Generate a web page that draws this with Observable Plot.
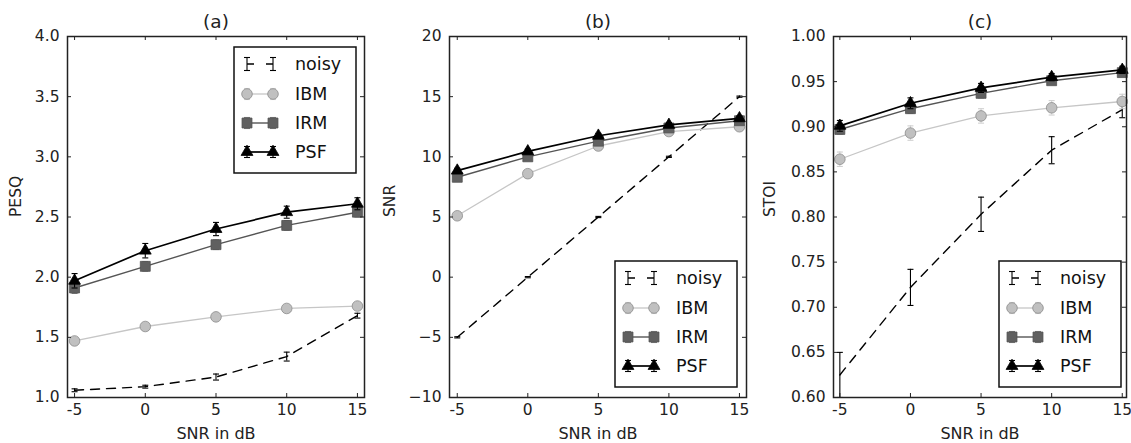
<!DOCTYPE html>
<html><head><meta charset="utf-8">
<script src="https://cdn.jsdelivr.net/npm/d3@7"></script>
<script src="https://cdn.jsdelivr.net/npm/@observablehq/plot@0.6"></script>
<style>
body{margin:0;background:#fff;}
#wrap{position:relative;width:1131px;height:443px;font-family:"DejaVu Sans",sans-serif;}
.panel{position:absolute;top:0;}
</style></head><body><div id="wrap"></div>
<script>
// ---- data ----
const snr = [-5, 0, 5, 10, 15];
const xTicks = [-5, 0, 5, 10, 15];
const seriesNames = ["noisy", "IBM", "IRM", "PSF"];

// (a) PESQ
const pesqNoisy = [1.06, 1.09, 1.17, 1.34, 1.68];
const pesqNoisyErr = [0.012, 0.012, 0.025, 0.037, 0.02];
const pesqIBM = [1.47, 1.59, 1.67, 1.74, 1.76];
const pesqIBMErr = [0.02, 0.02, 0.02, 0.02, 0.02];
const pesqIRM = [1.91, 2.09, 2.27, 2.43, 2.54];
const pesqIRMErr = [0.045, 0.04, 0.04, 0.04, 0.04];
const pesqPSF = [1.97, 2.22, 2.40, 2.54, 2.61];
const pesqPSFErr = [0.06, 0.06, 0.055, 0.05, 0.05];
const pesqTicks = [1.0, 1.5, 2.0, 2.5, 3.0, 3.5, 4.0];

// (b) SNR
const snrNoisy = [-5, 0, 5, 10, 15];
const snrNoisyErr = [0.05, 0.05, 0.05, 0.05, 0.05];
const snrIBM = [5.1, 8.6, 10.9, 12.1, 12.5];
const snrIBMErr = [0.2, 0.2, 0.2, 0.2, 0.2];
const snrIRM = [8.3, 10.0, 11.3, 12.4, 13.0];
const snrIRMErr = [0.2, 0.2, 0.2, 0.2, 0.2];
const snrPSF = [8.85, 10.45, 11.75, 12.65, 13.2];
const snrPSFErr = [0.2, 0.2, 0.2, 0.2, 0.2];
const snrTicks = [-10, -5, 0, 5, 10, 15, 20];

// (c) STOI
const stoiNoisy = [0.625, 0.722, 0.803, 0.874, 0.919];
const stoiNoisyErr = [0.025, 0.02, 0.019, 0.015, 0.009];
const stoiIBM = [0.864, 0.893, 0.912, 0.921, 0.928];
const stoiIBMErr = [0.008, 0.008, 0.008, 0.008, 0.008];
const stoiIRM = [0.897, 0.920, 0.937, 0.951, 0.960];
const stoiIRMErr = [0.005, 0.005, 0.005, 0.004, 0.004];
const stoiPSF = [0.901, 0.926, 0.943, 0.955, 0.963];
const stoiPSFErr = [0.006, 0.006, 0.005, 0.004, 0.004];
const stoiTicks = [0.60, 0.65, 0.70, 0.75, 0.80, 0.85, 0.90, 0.95, 1.00];

// ---- styles ----
const capSymbol = {draw(ctx, size) { const w = Math.sqrt(size / Math.PI); ctx.moveTo(-w, 0); ctx.lineTo(w, 0); }};
const styles = {
  noisy: {line: "#000", lw: 1.4, dash: "9,7", err: "#000", symbol: null},
  IBM: {line: "#c6c6c6", lw: 1.3, err: "#d0d0d0", symbol: "circle", r: 5.3, fill: "#c0c0c0", dotStroke: "#8c8c8c"},
  IRM: {line: "#555", lw: 1.4, err: "#7a7a7a", symbol: "square", r: 5.6, fill: "#606060", dotStroke: "#505050"},
  PSF: {line: "#000", lw: 1.7, err: "#000", symbol: "triangle", r: 4.4, fill: "#000", dotStroke: "#000"}
};

function rows(vals, errs) { return snr.map((x, i) => ({x, y: vals[i], e: errs[i]})); }

function seriesMarks(name, data) {
  const s = styles[name];
  const m = [
    Plot.ruleX(data, {x: "x", y1: d => d.y - d.e, y2: d => d.y + d.e, stroke: s.err, strokeWidth: 1.1, clip: true}),
    Plot.dot(data, {x: "x", y: d => d.y - d.e, symbol: capSymbol, r: 3, stroke: s.err, strokeWidth: 1.1, fill: "none", clip: true}),
    Plot.dot(data, {x: "x", y: d => d.y + d.e, symbol: capSymbol, r: 3, stroke: s.err, strokeWidth: 1.1, fill: "none", clip: true}),
    Plot.line(data, {x: "x", y: "y", stroke: s.line, strokeWidth: s.lw, strokeDasharray: s.dash || null, clip: true})
  ];
  if (s.symbol) m.push(Plot.dot(data, {x: "x", y: "y", symbol: s.symbol, r: s.r, fill: s.fill, stroke: s.dotStroke, strokeWidth: 0.8}));
  return m;
}

function addLegend(svg, bx, by) {
  const g = d3.select(svg).append("g").attr("text-anchor", "start");
  const bw = 122, bh = 126;
  g.append("rect").attr("x", bx).attr("y", by).attr("width", bw).attr("height", bh)
    .attr("fill", "#fff").attr("stroke", "#111").attr("stroke-width", 1.5);
  const rowY = [17, 47, 76, 105];
  const mx = [13, 39];
  seriesNames.forEach((name, i) => {
    const s = styles[name];
    const y = by + rowY[i];
    const eh = name === "noisy" ? 6.5 : 5.5;
    mx.forEach(dx => {
      const x = bx + dx;
      g.append("line").attr("x1", x).attr("x2", x).attr("y1", y - eh).attr("y2", y + eh).attr("stroke", s.err).attr("stroke-width", 1.1);
      [y - eh, y + eh].forEach(cy => g.append("line").attr("x1", x - 3).attr("x2", x + 3).attr("y1", cy).attr("y2", cy).attr("stroke", s.err).attr("stroke-width", 1.1));
    });
    g.append("line").attr("x1", bx + mx[0]).attr("x2", bx + mx[1]).attr("y1", y).attr("y2", y)
      .attr("stroke", s.line).attr("stroke-width", s.lw).attr("stroke-dasharray", name === "noisy" ? "7,12" : null);
    if (s.symbol) {
      const sym = {circle: d3.symbolCircle, square: d3.symbolSquare, triangle: d3.symbolTriangle}[s.symbol];
      const path = d3.symbol(sym, Math.PI * s.r * s.r)();
      mx.forEach(dx => g.append("path").attr("d", path).attr("transform", `translate(${bx + dx},${y})`)
        .attr("fill", s.fill).attr("stroke", s.dotStroke).attr("stroke-width", 0.8));
    }
    g.append("text").attr("x", bx + 61).attr("y", y).attr("dy", "0.36em").attr("font-size", 17.5)
      .attr("text-anchor", "start").attr("fill", "#111").attr("font-family", "DejaVu Sans, sans-serif").text(name);
  });
}

function panel(cfg) {
  const W = 377, H = 443, mt = 36, mb = 46;
  const fw = W - cfg.ml - cfg.mr, fh = H - mt - mb;
  const marks = [];
  marks.push(...seriesMarks("noisy", cfg.series[0]));
  marks.push(...seriesMarks("IBM", cfg.series[1]));
  marks.push(...seriesMarks("IRM", cfg.series[2]));
  marks.push(...seriesMarks("PSF", cfg.series[3]));
  // inward ticks on all four sides
  marks.push(Plot.tickX(xTicks, {x: d => d, insetTop: fh - 4, stroke: "#222"}));
  marks.push(Plot.tickX(xTicks, {x: d => d, insetBottom: fh - 4, stroke: "#222"}));
  marks.push(Plot.tickY(cfg.yTicks, {y: d => d, insetRight: fw - 4, stroke: "#222"}));
  marks.push(Plot.tickY(cfg.yTicks, {y: d => d, insetLeft: fw - 4, stroke: "#222"}));
  marks.push(Plot.axisX(xTicks, {tickSize: 0, tickPadding: 6, fontSize: 15.5, fill: "#222", label: null,
    tickFormat: d => d < 0 ? "-" + Math.abs(d) : String(d)}));
  marks.push(Plot.axisY(cfg.yTicks, {tickSize: 0, tickPadding: 8, fontSize: 15.5, fill: "#222", label: null, tickFormat: cfg.yFmt}));
  marks.push(Plot.frame({stroke: "#222", strokeWidth: 1.5}));
  marks.push(Plot.text([cfg.title], {text: d => d, frameAnchor: "top", lineAnchor: "middle", dy: -14, fontSize: 18.5, fill: "#222"}));
  marks.push(Plot.text(["SNR in dB"], {text: d => d, frameAnchor: "bottom", lineAnchor: "middle", dy: 36, fontSize: 16, fill: "#222"}));
  marks.push(Plot.text([cfg.ylabel], {text: d => d, frameAnchor: "left", lineAnchor: "middle", dx: cfg.ylabelDx, rotate: -90, fontSize: 15.5, fill: "#222"}));
  const svg = Plot.plot({
    width: W, height: H, marginLeft: cfg.ml, marginRight: cfg.mr, marginTop: mt, marginBottom: mb,
    style: {fontFamily: "DejaVu Sans, sans-serif", background: "#fff"},
    x: {domain: cfg.xDomain, axis: null},
    y: {domain: cfg.yDomain, axis: null},
    marks
  });
  const node = svg.tagName.toLowerCase() === "svg" ? svg : svg.querySelector("svg");
  addLegend(node, cfg.legend[0] - cfg.left, cfg.legend[1]);
  const div = document.createElement("div");
  div.className = "panel";
  div.style.left = cfg.left + "px";
  div.appendChild(svg);
  document.getElementById("wrap").appendChild(div);
}

const fmtMinus = d => d < 0 ? "\u2212" + Math.abs(d) : String(d);

panel({left: 0, ml: 67, mr: 13, xDomain: [-5.5, 15.5], yDomain: [1, 4], yTicks: pesqTicks, yFmt: d => d.toFixed(1),
  title: "(a)", ylabel: "PESQ", ylabelDx: -51,
  series: [rows(pesqNoisy, pesqNoisyErr), rows(pesqIBM, pesqIBMErr), rows(pesqIRM, pesqIRMErr), rows(pesqPSF, pesqPSFErr)],
  legend: [234, 47]});
panel({left: 377, ml: 72, mr: 8, xDomain: [-5.55, 15.5], yDomain: [-10, 20], yTicks: snrTicks, yFmt: fmtMinus,
  title: "(b)", ylabel: "SNR", ylabelDx: -59,
  series: [rows(snrNoisy, snrNoisyErr), rows(snrIBM, snrIBMErr), rows(snrIRM, snrIRMErr), rows(snrPSF, snrPSFErr)],
  legend: [615, 261]});
panel({left: 754, ml: 79, mr: 5, xDomain: [-5.45, 15.3], yDomain: [0.6, 1.0], yTicks: stoiTicks, yFmt: d => d.toFixed(2),
  title: "(c)", ylabel: "STOI", ylabelDx: -63,
  series: [rows(stoiNoisy, stoiNoisyErr), rows(stoiIBM, stoiIBMErr), rows(stoiIRM, stoiIRMErr), rows(stoiPSF, stoiPSFErr)],
  legend: [999, 261]});
</script></body></html>
